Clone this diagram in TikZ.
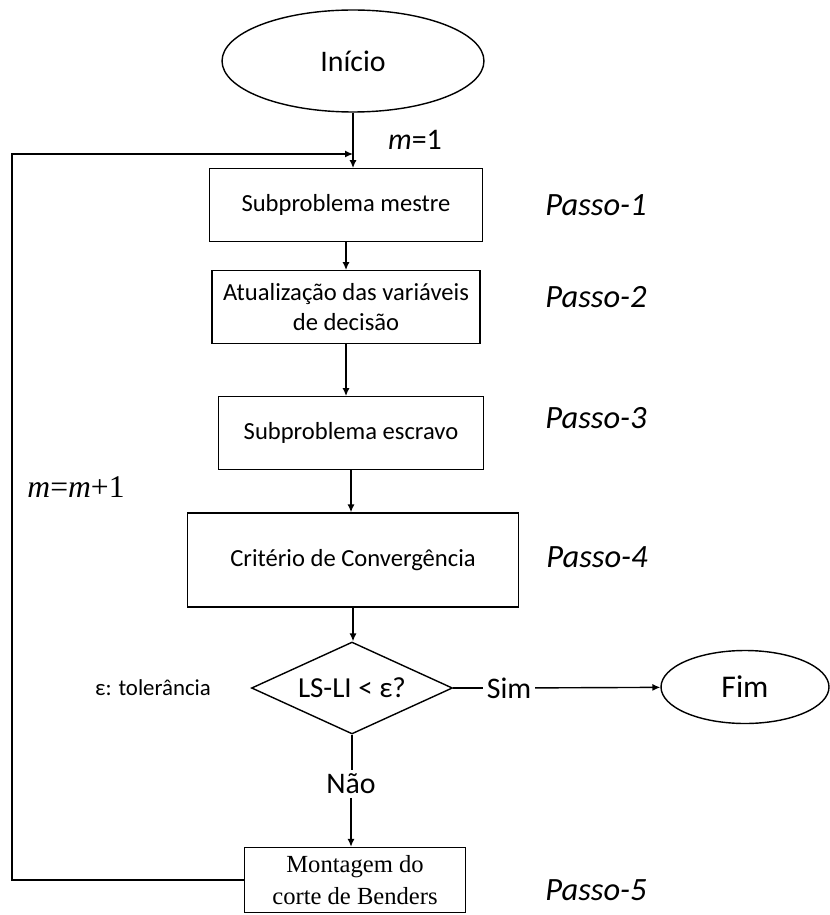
\documentclass[tikz,border=0pt]{standalone}
\usepackage{fontspec}
\setmainfont{Carlito}
\newfontfamily\timesfont{Liberation Serif}
\usetikzlibrary{arrows.meta, shapes.geometric, positioning}

\begin{document}
\begin{tikzpicture}[
            x=0.02cm, y=-0.02cm,
            box/.style={draw, line width=0.8pt, minimum width=5.4cm, minimum height=1.45cm, align=center, font=\fontsize{14}{17.5}\selectfont},
            term/.style={draw, ellipse, line width=0.8pt, font=\fontsize{17}{20}\selectfont},
            decisao/.style={draw, diamond, aspect=2.2, inner sep=0pt, line width=0.8pt, minimum width=4.02cm, minimum height=1.84cm, font=\fontsize{16.5}{19}\selectfont},
            passo/.style={font=\fontsize{18.5}{21}\selectfont\itshape},
            lbl/.style={font=\fontsize{17}{19}\selectfont, inner sep=2pt},
            arr/.style={-{Latex[length=4.5pt, width=4pt]}, line width=0.8pt},
            linha/.style={line width=0.8pt}
        ]
            \useasboundingbox (0,0) rectangle (829,915);

            \node[term, minimum width=5.24cm, minimum height=2.04cm] (inicio) at (353,61) {Início};
            \node[box, minimum width=5.46cm] (n1) at (346,205) {Subproblema mestre};
            \node[box, minimum width=5.36cm] (n2) at (346,307) {Atualização das variáveis\\de decisão};
            \node[box, minimum width=5.3cm] (n3) at (351,433) {Subproblema escravo};
            \node[box, minimum width=6.62cm, minimum height=1.88cm] (n4) at (353,560) {Critério de Convergência};
            \node[decisao] (teste) at (352,688) {LS-LI < ε?};
            \node[term, minimum width=3.36cm, minimum height=1.46cm, font=\fontsize{18}{20}\selectfont] (fim) at (745,687) {Fim};
            \node[box, minimum width=4.42cm, minimum height=1.3cm, font=\timesfont\fontsize{14}{18}\selectfont] (n5) at (355,880) {Montagem do\\corte de Benders};

            \node[lbl] (sim) at (509,688) {Sim};
            \node[lbl] (nao) at (351,784) {Não};
            \node[font=\fontsize{13}{15}\selectfont] (tol) at (153,688) {ε: tolerância};
            \node[font=\fontsize{17}{20}\selectfont] (m1) at (415,140) {\textit{m}=1};
            \node[font=\timesfont\fontsize{18}{20}\selectfont] (minc) at (76,487) {\textit{m}=\textit{m}+1};

            \node[passo] (p1) at (596,205) {Passo-1};
            \node[passo] (p2) at (596,297) {Passo-2};
            \node[passo] (p3) at (596,418) {Passo-3};
            \node[passo] (p4) at (597,557) {Passo-4};
            \node[passo] (p5) at (596,890) {Passo-5};

            \coordinate (canto) at (12,154);
            \coordinate (juncao) at (353,154);

            \draw[arr] (inicio.south) -- (inicio.south |- n1.north);
            \draw[arr] (n1) -- (n2);
            \draw[arr] (n2.south) -- (n2.south |- n3.north);
            \draw[arr] (n3.south) -- (n3.south |- n4.north);
            \draw[arr] (n4.south) -- (n4.south |- teste.north);
            \draw[linha] (teste) -- (sim);
            \draw[arr] (sim) -- (fim);
            \draw[linha] (teste.south) -- (teste.south |- nao.north);
            \draw[arr] (nao) -- (nao |- n5.north);
            \draw[arr] (n5.west) -| (canto) -- (juncao);
        \end{tikzpicture}
\end{document}
